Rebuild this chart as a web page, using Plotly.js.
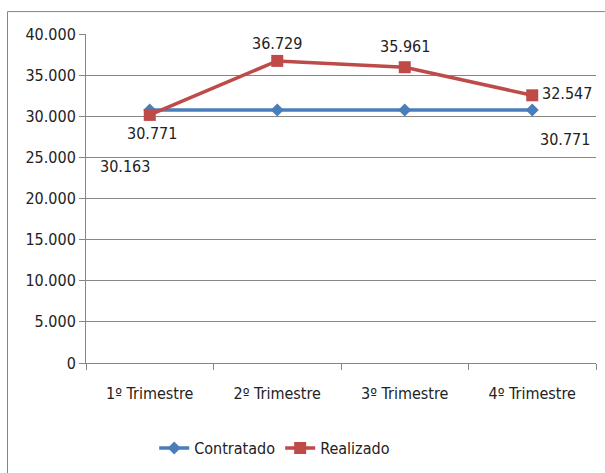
<!DOCTYPE html>
<html>
<head>
<meta charset="utf-8">
<script src="https://cdn.plot.ly/plotly-3.0.1.min.js"></script>
<style>html,body{margin:0;padding:0;background:#fff;}#chart{width:605px;height:473px;}</style>
</head>
<body>
<div id="chart"></div>
<script>
const categories = ["1º Trimestre", "2º Trimestre", "3º Trimestre", "4º Trimestre"];
const contratado = [30771, 30771, 30771, 30771];
const realizado = [30163, 36729, 35961, 32547];
const contratadoLabels = ["30.771", "", "", "30.771"];
const realizadoLabels = ["30.163", "36.729", "35.961", "32.547"];
const yTickVals = [0, 5000, 10000, 15000, 20000, 25000, 30000, 35000, 40000];
const yTickText = ["0", "5.000", "10.000", "15.000", "20.000", "25.000", "30.000", "35.000", "40.000"];

const FONT = "'Liberation Sans Narrow', 'DejaVu Sans Condensed', 'Liberation Sans', sans-serif";
const TXT = "#222222";

// label offsets (pixels) for each point
const contratadoOff = [[2, 24], [0, 0], [0, 0], [33, 30]];
const realizadoOff = [[-25, 52], [0, -17], [0, -21], [35, -2]];

const annotations = [];
categories.forEach((c, i) => {
  if (contratadoLabels[i]) {
    annotations.push({x: c, y: contratado[i], xref: 'x', yref: 'y', text: contratadoLabels[i],
      showarrow: false, xshift: contratadoOff[i][0], yshift: -contratadoOff[i][1],
      font: {family: FONT, size: 16, color: TXT}});
  }
  if (realizadoLabels[i]) {
    annotations.push({x: c, y: realizado[i], xref: 'x', yref: 'y', text: realizadoLabels[i],
      showarrow: false, xshift: realizadoOff[i][0], yshift: -realizadoOff[i][1],
      font: {family: FONT, size: 16, color: TXT}});
  }
});

const traces = [
  {x: categories, y: contratado, name: "Contratado", type: "scatter", mode: "lines+markers",
   line: {color: "#4A7EBB", width: 3.5}, marker: {symbol: "diamond", size: 10, color: "#4A7EBB"}},
  {x: categories, y: realizado, name: "Realizado", type: "scatter", mode: "lines+markers",
   line: {color: "#BE4B48", width: 3.5}, marker: {symbol: "square", size: 12, color: "#BE4B48"}}
];

const layout = {
  width: 605, height: 473,
  margin: {l: 86, r: 9, t: 34, b: 109},
  paper_bgcolor: "#ffffff", plot_bgcolor: "#ffffff",
  showlegend: true,
  legend: {orientation: "h", x: 0.37, xanchor: "center", y: -0.255, yanchor: "middle",
    font: {family: FONT, size: 16, color: TXT}, itemwidth: 30, tracegroupgap: 0},
  xaxis: {type: "category", range: [-0.5, 3.5], showgrid: false, showline: true, linecolor: "#868686", linewidth: 1,
    ticks: "outside", tickson: "boundaries", ticklen: 6, tickcolor: "#868686", ticklabelstandoff: 16,
    tickfont: {family: FONT, size: 16, color: TXT}, zeroline: false, fixedrange: true},
  yaxis: {range: [0, 40000], tickvals: yTickVals, ticktext: yTickText, showgrid: true, gridcolor: "#868686", gridwidth: 1,
    showline: true, linecolor: "#868686", linewidth: 1, ticks: "outside", ticklen: 6, tickcolor: "#868686",
    tickfont: {family: FONT, size: 16, color: TXT}, zeroline: false, mirror: false},
  annotations: annotations,
  shapes: [
    {type: "rect", xref: "paper", yref: "paper", x0: (7.5 - 86) / 510, x1: (610 - 86) / 510,
     y0: (364 - 480) / 330, y1: (364 - 11.5) / 330, line: {color: "#868686", width: 1}, layer: "below"}
  ]
};

Plotly.newPlot("chart", traces, layout, {displayModeBar: false, staticPlot: true});
</script>
</body>
</html>
